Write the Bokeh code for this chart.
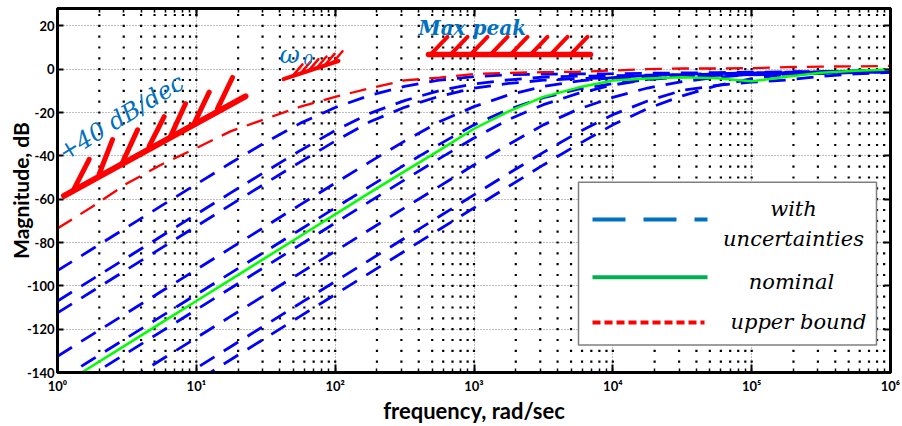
import math
from bokeh.plotting import figure
from bokeh.models import Label, LogAxis, LinearAxis, FixedTicker, Range1d, LogTicker
from bokeh.embed import file_html
from bokeh.resources import INLINE

# ---------------- data ----------------
freq = [1, 1.778, 3.162, 5.623, 10, 17.78, 31.62, 56.23, 100, 177.8, 316.2, 562.3,
        1000, 1778, 3162, 5623, 10000, 17783, 31623, 56234, 100000, 177828, 316228,
        562341, 1000000]

unc_a = [-93, -83, -73, -63, -53.1, -43.2, -33.7, -24.9, -17.7, -12.1, -7.9, -5.1,
         -3.4, -2.6, -2.3, -2.2, -2.1, -1.9, -1.75, -1.6, -1.4, -1.2, -1.05, -0.9, -0.7]
unc_b = [-107, -97, -87, -77, -67, -57, -47.2, -37.5, -28.3, -20.4, -14.5, -9.9,
         -6.8, -4.9, -3.7, -3.25, -3.05, -2.75, -2.5, -2.25, -2.0, -1.75, -1.5, -1.25, -1.0]
unc_c = [-112.5, -102.5, -92.5, -82.5, -72.5, -62.5, -52.6, -42.8, -33.2, -24.3, -17.6, -12.5,
         -8.8, -6.6, -5.1, -4.3, -4.0, -3.6, -3.25, -2.9, -2.6, -2.3, -1.95, -1.6, -1.3]
unc_d = [-132.5, -122.5, -112.5, -102.5, -92.5, -82.5, -72.5, -62.5, -52.6, -42.8, -33.2, -24.3,
         -17.3, -11.9, -8.0, -5.5, -3.9, -2.9, -2.4, -2.0, -1.8, -1.6, -1.35, -1.1, -0.9]
unc_e = [-144, -134, -124, -114, -104, -94, -84, -74, -64, -54.1, -44.2, -34.7,
         -25.7, -18.5, -13.2, -9.2, -6.7, -4.8, -3.5, -2.9, -2.45, -2.1, -1.8, -1.5, -1.2]
unc_f = [-151, -141, -131, -121, -111, -101, -91, -81, -71, -61, -51.1, -41.3,
         -31.8, -23.2, -16.4, -11.2, -7.3, -4.7, -3.0, -2.15, -1.7, -1.4, -1.2, -1.0, -0.8]
unc_g = [-164, -154, -144, -134, -124, -114, -104, -94, -84, -74, -64, -54.1,
         -44.2, -34.7, -25.7, -18.5, -13.0, -8.7, -5.75, -3.75, -2.5, -1.95, -1.55, -1.25, -1.0]
unc_h = [-178, -168, -158, -148, -138, -128, -118, -108, -98, -88, -78, -68,
         -58.0, -48.1, -38.4, -29.2, -21.0, -14.7, -9.8, -7.5, -6.0, -5.0, -3.3, -2.2, -1.5]
unc_i = [-184, -174, -164, -154, -144, -134, -124, -114, -104, -94, -84, -74,
         -64, -54.1, -44.2, -34.7, -25.7, -18.2, -12.3, -7.6, -4.4, -2.4, -1.25, -0.8, -0.55]

nominal = [-147, -137, -127, -117, -107, -97, -87, -77, -67, -57, -47.2, -37.5,
           -27.5, -19.5, -12.8, -8.5, -5.2, -4.3, -3.7, -4.2, -5.6, -3.5, -1.7, -0.7, -0.1]

upper_bound = [-73.5, -63.5, -52.8, -44.0, -36.4, -28.6, -22.9, -17.3, -12.8, -8.8, -5.2, -3.9,
               -2.2, -1.7, -1.4, -1.2, -0.6, 0.0, 0.3, 0.3, 0.5, 0.9, 1.2, 1.3, 1.5]

y_ticks = [-140, -120, -100, -80, -60, -40, -20, 0, 20]
y_tick_labels = ["-140", "-120", "-100", "-80", "-60", "-40", "-20", "0", "20"]
x_ticks = [1, 10, 100, 1000, 10000, 100000, 1000000]
x_tick_labels = ["10⁰", "10¹", "10²", "10³", "10⁴", "10⁵", "10⁶"]

legend_labels = ["with", "uncertainties", "nominal", "upper bound"]

# ---------------- layout helpers (page pixels -> data) ----------------
X_MIN, X_MAX, Y_MIN, Y_MAX = 1, 1e6, -140, 28
F_LEFT, F_RIGHT, F_TOP, F_BOT = 57, 890, 8, 379   # frame edges on the page


def px_x(px):
    return 10 ** ((px - F_LEFT) / (F_RIGHT - F_LEFT) * 6)


def px_y(py):
    return Y_MAX - (py - F_TOP) * (Y_MAX - Y_MIN) / (F_BOT - F_TOP)


p = figure(width=902, height=426, x_axis_type="log",
           x_range=Range1d(X_MIN, X_MAX), y_range=Range1d(Y_MIN, Y_MAX),
           output_backend="svg", toolbar_location=None,
           min_border_left=F_LEFT, min_border_right=902 - F_RIGHT,
           min_border_top=F_TOP, min_border_bottom=426 - F_BOT)
p.background_fill_color = "white"
p.border_fill_color = "white"
p.outline_line_color = "black"
p.outline_line_width = 3

TICK_FONT = "Lato"
xa = p.xaxis[0]
xa.ticker = LogTicker(num_minor_ticks=10)
xa.major_label_overrides = {t: s for t, s in zip(x_ticks, x_tick_labels)}
xa.major_label_text_font = TICK_FONT
xa.major_label_text_font_style = "bold"
xa.major_label_text_font_size = "13px"
xa.major_label_text_color = "black"
xa.major_label_standoff = 5
xa.major_tick_in = 8
xa.major_tick_out = 0
xa.minor_tick_in = 4
xa.minor_tick_out = 0
xa.axis_line_width = 3
xa.major_tick_line_width = 2
xa.minor_tick_line_width = 1.5
xa.axis_label = "frequency, rad/sec"
xa.axis_label_text_font = "Lato"
xa.axis_label_text_font_style = "bold"
xa.axis_label_text_font_size = "22px"
xa.axis_label_text_color = "black"
xa.axis_label_standoff = 0

ya = p.yaxis[0]
ya.ticker = FixedTicker(ticks=y_ticks)
ya.major_label_overrides = {t: s for t, s in zip(y_ticks, y_tick_labels)}
ya.major_label_text_font = TICK_FONT
ya.major_label_text_font_style = "bold"
ya.major_label_text_font_size = "13px"
ya.major_label_text_color = "black"
ya.major_label_standoff = 3
ya.major_tick_in = 6
ya.major_tick_out = 0
ya.minor_tick_line_color = None
ya.axis_line_width = 3
ya.major_tick_line_width = 2
ya.axis_label = "Magnitude, dB"
ya.axis_label_text_font = "Lato"
ya.axis_label_text_font_style = "bold"
ya.axis_label_text_font_size = "21px"
ya.axis_label_text_color = "black"
ya.axis_label_standoff = -9

top = LogAxis(ticker=LogTicker(num_minor_ticks=10), major_label_text_font_size="1px",
              major_label_text_alpha=0, major_label_standoff=0,
              major_tick_in=8, major_tick_out=0,
              minor_tick_in=4, minor_tick_out=0, axis_line_width=3,
              major_tick_line_width=2, minor_tick_line_width=1.5)
p.add_layout(top, "above")
right = LinearAxis(ticker=FixedTicker(ticks=y_ticks), major_label_text_font_size="1px",
                   major_label_text_alpha=0, major_label_standoff=0,
                   major_tick_in=6, major_tick_out=0,
                   minor_tick_line_color=None, axis_line_width=3, major_tick_line_width=2)
p.add_layout(right, "right")

for g in (p.xgrid[0], p.ygrid[0]):
    g.grid_line_color = "black"
    g.grid_line_alpha = 0.5
    g.grid_line_dash = "1 2"
    g.grid_line_width = 1

# minor grid drawn as a dot matrix at minor-tick intersections
dot_x_vals = [k * 10 ** n for n in range(6) for k in range(1, 10)][1:]
dot_y_vals = [v for v in range(-135, 28, 5)]
dx, dy = [], []
for xv in dot_x_vals:
    for yv in dot_y_vals:
        dx.append(xv)
        dy.append(yv)
p.scatter(dx, dy, marker="square", size=2.2, color="black", line_color=None)

# ---------------- curves ----------------
for ys in [unc_a, unc_b, unc_c, unc_d, unc_e, unc_f, unc_g, unc_h, unc_i]:
    p.line(freq, ys, line_color="#0000FF", line_width=2.8, line_dash="17 11")
p.line(freq, nominal, line_color="#00FF00", line_width=2.5)
p.line(freq, upper_bound, line_color="#FF0000", line_width=2.3, line_dash="17 10")

# ---------------- red hatched annotations ----------------
RED = "#FF0000"
BLUE_TXT = "#0070C0"


def seg(x0, y0, x1, y1, w):
    p.line([px_x(x0), px_x(x1)], [px_y(y0), px_y(y1)], line_color=RED,
           line_width=w, line_cap="round")


# +40 dB/dec
seg(63.5, 199, 245, 97.5, 6)
hatch40 = [((73.7, 191.7), (88.7, 161.7)), ((98.7, 176.7), (112, 141.7)),
           ((122, 165), (137, 131.7)), ((148.7, 148.3), (163.7, 118.3)),
           ((170, 138.3), (185, 105)), ((193.7, 125), (208.7, 93.3)),
           ((217, 110), (232, 78.3))]
for (a, b) in hatch40:
    seg(a[0], a[1], b[0], b[1], 5)

# omega_0
seg(283, 80, 338, 61.5, 4)
for k in range(6):
    bx = 292 + 8 * k
    by = 80 - (bx - 283) * 0.336
    seg(bx, by, bx + 10, by - 12, 2.5)

# Max peak
seg(428, 55, 590, 55, 5.5)
for k in range(8):
    bx = 430 + 20 * k
    seg(bx, 55, bx + 17, 37, 4)


def label(px, py, text, size, font="DejaVu Serif", style="italic", color="black",
          align="left", angle=0.0, baseline="alphabetic"):
    p.add_layout(Label(x=px_x(px), y=px_y(py), text=text, text_font=font,
                       text_font_style=style, text_font_size=size, text_color=color,
                       text_align=align, text_baseline=baseline, angle=angle))


label(60, 157, "+40 dB/dec", "24px", color=BLUE_TXT, angle=math.radians(31.6))
label(279, 55, "ω", "25px", color=BLUE_TXT)
label(303, 60, "0", "15px", color=BLUE_TXT)
label(418, 28, "Max peak", "20px", style="bold italic", color=BLUE_TXT)

# ---------------- legend (drawn by hand, as in the picture) ----------------
p.quad(left=px_x(578), right=px_x(876), top=px_y(185), bottom=px_y(351),
       fill_color="white", line_color="#7f7f7f", line_width=1.5)
p.line([px_x(592), px_x(707)], [px_y(223), px_y(223)], line_color="#0070C0",
       line_width=4, line_dash="33 18")
p.line([px_x(592), px_x(707)], [px_y(282), px_y(282)], line_color="#00B050",
       line_width=4)
p.line([px_x(592), px_x(704)], [px_y(328), px_y(328)], line_color="#FF0000",
       line_width=4, line_dash="8 4")
label(793, 212, legend_labels[0], "21px", align="center")
label(793, 243, legend_labels[1], "21px", align="center")
label(791, 287, legend_labels[2], "21px", align="center")
label(798, 328, legend_labels[3], "21px", align="center")

open("out.html", "w").write(file_html(p, INLINE))
